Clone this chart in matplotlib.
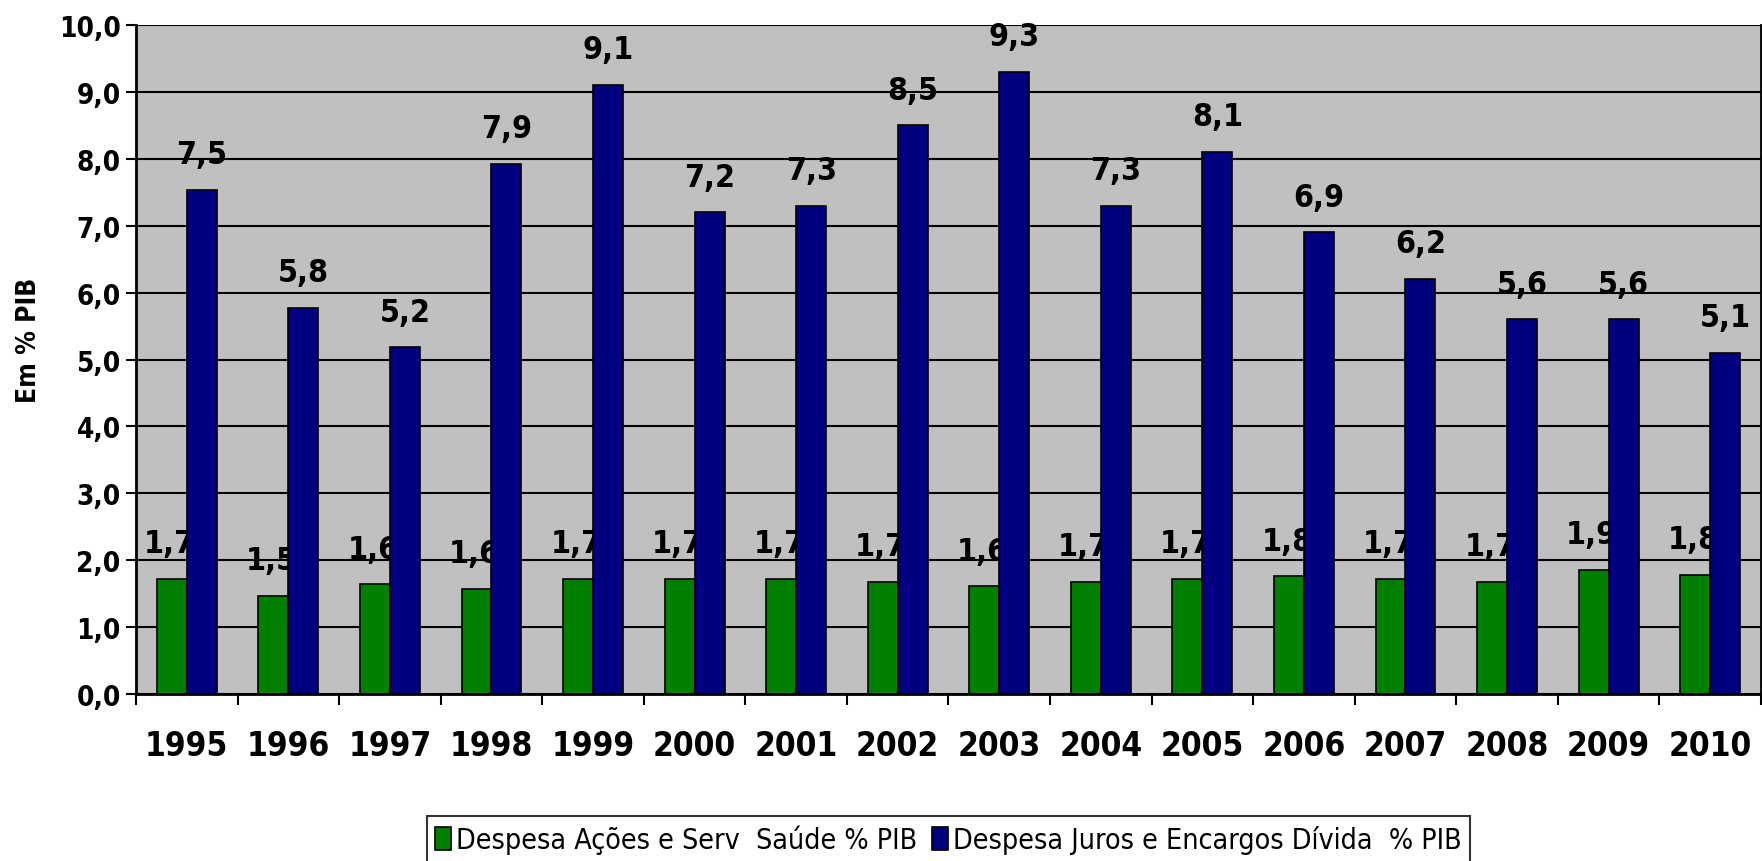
import matplotlib.pyplot as plt
from matplotlib.ticker import FuncFormatter, FixedLocator, NullFormatter
import numpy as np

anos = ["1995", "1996", "1997", "1998", "1999", "2000", "2001", "2002",
        "2003", "2004", "2005", "2006", "2007", "2008", "2009", "2010"]
saude = [1.72, 1.47, 1.64, 1.57, 1.72, 1.72, 1.72, 1.68,
         1.61, 1.68, 1.72, 1.76, 1.72, 1.68, 1.86, 1.78]
juros = [7.54, 5.77, 5.18, 7.93, 9.10, 7.20, 7.30, 8.50,
         9.30, 7.30, 8.10, 6.90, 6.20, 5.60, 5.60, 5.10]
serie_saude = "Despesa Ações e Serv  Saúde % PIB"
serie_juros = "Despesa Juros e Encargos Dívida  % PIB"

plt.rcParams['font.family'] = ['DejaVu Sans']
plt.rcParams['font.stretch'] = 'condensed'

def virgula(v):
    return f"{v:.1f}".replace('.', ',')

fig = plt.figure(figsize=(17.62, 8.62), dpi=100)
ax = fig.add_axes([0.0772, 0.1937, 0.9222, 0.7761])
ax.set_facecolor('#C0C0C0')

x = np.arange(len(anos))
larg = 0.295
ax.bar(x - larg / 2, saude, larg, color='#008000', edgecolor='black',
       linewidth=1.2, label=serie_saude, zorder=2)
ax.bar(x + larg / 2, juros, larg, color='#000080', edgecolor='black',
       linewidth=1.2, label=serie_juros, zorder=4)

for i in range(len(anos)):
    ax.text(x[i] - larg / 2 - 0.02, saude[i] + 0.4, virgula(saude[i]), ha='center',
            va='baseline', fontsize=23, fontweight='bold', zorder=3)
    ax.text(x[i] + larg / 2, juros[i] + 0.4, virgula(juros[i]), ha='center',
            va='baseline', fontsize=23, fontweight='bold', zorder=5)

ax.set_xlim(-0.5, len(anos) - 0.5)
ax.set_ylim(0, 10)
ax.set_yticks(np.arange(0, 11, 1))
ax.yaxis.set_major_formatter(FuncFormatter(lambda v, p: virgula(v)))
ax.grid(axis='y', color='black', linewidth=1.5, zorder=1)
ax.set_axisbelow(True)

ax.xaxis.set_major_locator(FixedLocator(np.arange(-0.5, len(anos), 1)))
ax.xaxis.set_major_formatter(NullFormatter())
ax.xaxis.set_minor_locator(FixedLocator(x))
ax.set_xticklabels(anos, minor=True)
ax.tick_params(axis='x', which='minor', length=0, pad=25, labelsize=24)
ax.tick_params(axis='x', which='major', length=8, width=1.5, direction='out')
ax.tick_params(axis='y', length=7, width=1.5, labelsize=20, pad=4)
for lab in ax.get_xticklabels(minor=True) + ax.get_yticklabels():
    lab.set_fontweight('bold')

for s in ['left', 'bottom', 'right']:
    ax.spines[s].set_linewidth(2)
    ax.spines[s].set_color('black')
ax.spines['top'].set_visible(False)

ax.set_ylabel('Em % PIB', fontsize=19, fontweight='bold')
ax.yaxis.set_label_coords(-0.058, 0.53)

leg = ax.legend(loc='upper center', bbox_to_anchor=(0.5, -0.183), ncol=2,
                fontsize=20.5, frameon=True, fancybox=False, handlelength=0.55,
                handleheight=0.85, handletextpad=0.2, columnspacing=0.5,
                borderpad=0.3, borderaxespad=0)
leg.get_frame().set_edgecolor('black')
leg.get_frame().set_linewidth(1.5)

plt.savefig('out.png', dpi=100)
